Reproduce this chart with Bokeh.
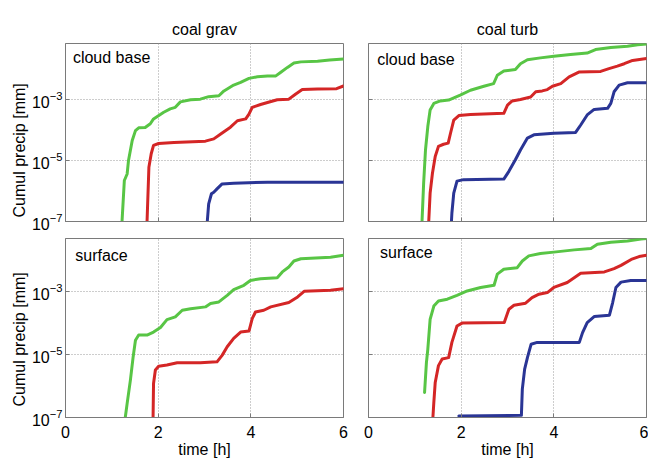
from bokeh.plotting import figure
from bokeh.models import Range1d, FixedTicker, Label, Title
from bokeh.layouts import gridplot
from bokeh.embed import file_html
from bokeh.resources import INLINE

# ---------------- data ----------------
col_titles = ["coal grav", "coal turb"]
row_titles = ["cloud base", "surface"]
x_ticks = [0, 2, 4, 6]
y_ticks = [1e-7, 1e-5, 1e-3]

# top-left: coal grav, cloud base
tl_green_t = [1.22, 1.27, 1.33, 1.36, 1.44, 1.51, 1.58, 1.72, 1.83, 1.90, 2.12, 2.26, 2.37, 2.48, 2.70, 2.91,
              3.09, 3.31, 3.42, 3.63, 3.78, 3.96, 4.14, 4.36, 4.54, 4.64, 4.79, 4.93, 5.08, 5.44, 5.70, 6.00]
tl_green_p = [1e-7, 2.2e-6, 3.6e-6, 1.0e-5, 4.5e-5, 9.5e-5, 1.17e-4, 1.2e-4, 1.6e-4, 2.3e-4, 3.8e-4, 4.9e-4,
              5.5e-4, 8.3e-4, 9.8e-4, 1.02e-3, 1.23e-3, 1.32e-3, 1.9e-3, 2.95e-3, 3.6e-3, 4.9e-3, 5.5e-3,
              5.9e-3, 5.9e-3, 7.6e-3, 1.12e-2, 1.55e-2, 1.7e-2, 1.78e-2, 1.95e-2, 2.1e-2]
tl_red_t = [1.76, 1.80, 1.85, 1.90, 2.01, 2.34, 3.02, 3.20, 3.35, 3.56, 3.71, 3.89, 3.96, 4.03, 4.21, 4.36,
            4.57, 4.82, 4.97, 5.11, 5.44, 5.85, 6.00]
tl_red_p = [1e-7, 6.0e-6, 1.66e-5, 3.1e-5, 3.6e-5, 3.9e-5, 4.3e-5, 5.1e-5, 7.4e-5, 1.23e-4, 2.0e-4, 2.3e-4,
            3.3e-4, 5.5e-4, 6.8e-4, 7.9e-4, 9.8e-4, 1.02e-3, 1.51e-3, 2.1e-3, 2.2e-3, 2.25e-3, 2.75e-3]
tl_blue_t = [3.06, 3.09, 3.15, 3.20, 3.27, 3.38, 3.63, 4.36, 6.00]
tl_blue_p = [1e-7, 3.8e-7, 8.1e-7, 9.1e-7, 1.17e-6, 1.7e-6, 1.78e-6, 1.95e-6, 1.95e-6]

# top-right: coal turb, cloud base
tr_green_t = [1.155, 1.19, 1.23, 1.28, 1.33, 1.41, 1.55, 1.73, 1.98, 2.20, 2.49, 2.70, 2.78, 2.92, 3.17, 3.28,
              3.43, 3.71, 4.00, 4.36, 4.72, 4.90, 5.23, 5.59, 5.81, 6.00]
tr_green_p = [1e-7, 1.8e-6, 2.2e-5, 1.29e-4, 4.5e-4, 7.4e-4, 8.9e-4, 9.5e-4, 1.38e-3, 2.0e-3, 2.7e-3, 3.3e-3,
              6.2e-3, 8.5e-3, 9.5e-3, 1.48e-2, 2.0e-2, 2.3e-2, 2.6e-2, 2.95e-2, 3.3e-2, 4.3e-2, 5.0e-2,
              5.5e-2, 6.2e-2, 6.6e-2]
tr_red_t = [1.30, 1.33, 1.38, 1.44, 1.51, 1.62, 1.72, 1.77, 1.84, 1.95, 2.20, 2.92, 3.00, 3.10, 3.28, 3.50,
            3.61, 3.75, 3.86, 3.97, 4.15, 4.33, 4.54, 5.01, 5.19, 5.37, 5.52, 5.70, 6.00]
tr_red_p = [1e-7, 8.5e-7, 3.8e-6, 1.35e-5, 2.9e-5, 3.4e-5, 3.7e-5, 7.8e-5, 2.1e-4, 2.95e-4, 3.2e-4, 3.5e-4,
            6.5e-4, 8.9e-4, 1.0e-3, 1.2e-3, 1.78e-3, 1.9e-3, 2.1e-3, 2.7e-3, 3.3e-3, 5.5e-3, 7.9e-3,
            8.3e-3, 1.02e-2, 1.23e-2, 1.48e-2, 1.9e-2, 2.2e-2]
tr_blue_t = [1.79, 1.80, 1.84, 1.91, 2.05, 2.92, 3.03, 3.17, 3.28, 3.43, 3.57, 4.00, 4.47, 4.58, 4.72, 4.87,
             5.16, 5.23, 5.30, 5.41, 5.59, 6.00]
tr_blue_p = [1e-7, 1.9e-7, 8.5e-7, 2.1e-6, 2.35e-6, 2.45e-6, 4.4e-6, 1.05e-5, 2.2e-5, 5.4e-5, 6.9e-5, 7.8e-5,
             8.3e-5, 1.45e-4, 3.1e-4, 4.7e-4, 5.1e-4, 7.4e-4, 1.78e-3, 2.95e-3, 3.5e-3, 3.55e-3]

# bottom-left: coal grav, surface
bl_green_t = [1.29, 1.33, 1.40, 1.46, 1.51, 1.58, 1.76, 1.90, 2.05, 2.19, 2.37, 2.52, 2.70, 3.02, 3.13, 3.31,
              3.49, 3.63, 3.85, 3.99, 4.21, 4.57, 4.68, 4.82, 4.93, 5.08, 5.72, 6.00]
bl_green_p = [1e-7, 2.75e-7, 1.5e-6, 8.3e-6, 2.8e-5, 4.1e-5, 4.1e-5, 5.1e-5, 7.1e-5, 1.26e-4, 1.55e-4, 2.5e-4,
              2.8e-4, 3.2e-4, 4.1e-4, 4.6e-4, 7.4e-4, 1.12e-3, 1.55e-3, 2.2e-3, 2.5e-3, 2.7e-3, 4.1e-3,
              5.9e-3, 9.1e-3, 1.07e-2, 1.2e-2, 1.38e-2]
bl_red_t = [1.89, 1.90, 1.94, 2.01, 2.19, 2.41, 2.91, 3.27, 3.38, 3.49, 3.63, 3.78, 3.96, 4.03, 4.10, 4.28,
            4.43, 4.82, 5.01, 5.15, 5.72, 6.00]
bl_red_p = [1e-7, 1.2e-6, 3.2e-6, 4.2e-6, 4.6e-6, 5.4e-6, 5.4e-6, 5.8e-6, 9.3e-6, 1.74e-5, 3.2e-5, 5.1e-5,
            5.5e-5, 1.35e-4, 2.2e-4, 2.5e-4, 3.2e-4, 4.4e-4, 6.6e-4, 1.0e-3, 1.07e-3, 1.2e-3]

# bottom-right: coal turb, surface
br_green_t = [1.21, 1.25, 1.28, 1.33, 1.41, 1.51, 1.70, 1.91, 2.13, 2.42, 2.71, 2.78, 2.92, 3.21, 3.32, 3.46,
              3.71, 4.00, 4.44, 4.80, 4.94, 5.23, 5.59, 5.88, 6.00]
br_green_p = [6.2e-7, 5.5e-6, 1.45e-5, 1.29e-4, 3.4e-4, 4.9e-4, 5.6e-4, 7.4e-4, 1.02e-3, 1.32e-3, 1.55e-3,
              3.5e-3, 5.0e-3, 5.6e-3, 9.1e-3, 1.32e-2, 1.58e-2, 1.74e-2, 2.05e-2, 2.25e-2, 3.1e-2, 3.6e-2,
              3.9e-2, 4.5e-2, 4.7e-2]
br_red_t = [1.39, 1.41, 1.44, 1.51, 1.59, 1.73, 1.80, 1.91, 2.02, 2.93, 3.03, 3.14, 3.39, 3.53, 3.68, 3.86,
            4.00, 4.29, 4.58, 5.09, 5.30, 5.45, 5.67, 5.84, 6.00]
br_red_p = [1e-7, 3.0e-7, 1.29e-6, 4.4e-6, 7.1e-6, 7.9e-6, 2.4e-5, 7.9e-5, 9.8e-5, 1.02e-4, 2.7e-4, 3.6e-4,
            4.2e-4, 6.3e-4, 8.1e-4, 9.1e-4, 1.32e-3, 1.9e-3, 3.7e-3, 4.1e-3, 5.2e-3, 6.6e-3, 1.02e-2,
            1.26e-2, 1.38e-2]
br_blue_t = [1.95, 3.30, 3.32, 3.37, 3.43, 3.51, 3.64, 4.55, 4.62, 4.72, 4.87, 5.20, 5.27, 5.34, 5.45, 5.66, 6.00]
br_blue_p = [1.12e-7, 1.17e-7, 7.9e-7, 3.4e-6, 7.9e-6, 2.1e-5, 2.4e-5, 2.4e-5, 4.9e-5, 1.02e-4, 1.58e-4,
             1.74e-4, 4.4e-4, 1.32e-3, 1.95e-3, 2.2e-3, 2.2e-3]

# ---------------- styling ----------------
FONT = "Liberation Sans"
GREEN = "#58c545"
RED = "#d42626"
BLUE = "#2a3595"
FRAME = "#7a7a7a"
GRID = "#9a9a9a"
FS = "16px"

top_ymax = 0.068
bot_ymax = 0.047


def hide_labels(ax):
    ax.major_label_text_font_size = "1px"
    ax.major_label_text_alpha = 0
    ax.major_label_standoff = 0


def panel(top, left, ymax, series, corner_text, corner_pos):
    w = 348 if left else 300
    h = 233 if top else 228
    p = figure(width=w, height=h, x_range=Range1d(0, 6), y_range=Range1d(1e-7, ymax),
               y_axis_type="log", output_backend="svg", toolbar_location=None, title=None,
               min_border_left=65 if left else 20, min_border_right=5 if left else 2,
               min_border_top=43 if top else 5, min_border_bottom=12 if top else 44)
    p.background_fill_color = "white"
    p.border_fill_color = "white"
    p.outline_line_color = FRAME
    p.outline_line_width = 1

    xt = FixedTicker(ticks=x_ticks)
    yt = FixedTicker(ticks=y_ticks)
    p.xaxis.ticker = xt
    p.yaxis.ticker = yt
    p.xgrid.ticker = xt
    p.ygrid.ticker = yt
    for g in (p.xgrid[0], p.ygrid[0]):
        g.grid_line_color = GRID
        g.grid_line_dash = "1 2"
        g.grid_line_width = 1

    for ax in (p.xaxis[0], p.yaxis[0]):
        ax.axis_line_color = FRAME
        ax.major_tick_line_color = FRAME
        ax.major_tick_in = 4
        ax.major_tick_out = 0
        ax.minor_tick_line_color = None
        ax.major_label_text_font = FONT
        ax.major_label_text_font_size = FS
        ax.major_label_text_color = "black"

    p.yaxis[0].major_label_standoff = 3
    p.xaxis[0].major_label_standoff = 8
    if not left:
        hide_labels(p.yaxis[0])
    if top:
        hide_labels(p.xaxis[0])
    else:
        p.xaxis[0].axis_label = "time [h]"
        p.xaxis[0].axis_label_text_font = FONT
        p.xaxis[0].axis_label_text_font_size = FS
        p.xaxis[0].axis_label_text_font_style = "normal"
        p.xaxis[0].axis_label_text_color = "black"
        p.xaxis[0].axis_label_standoff = 0

    for t, v, c in series:
        p.line(t, v, line_color=c, line_width=3, line_join="round", line_cap="round")

    cx, cy = corner_pos
    p.add_layout(Label(x=cx, y=cy, text=corner_text, text_font=FONT, text_font_size=FS,
                       text_align="left", text_baseline="middle", text_color="black"))
    return p


p_tl = panel(True, True, top_ymax,
             [(tl_green_t, tl_green_p, GREEN), (tl_red_t, tl_red_p, RED), (tl_blue_t, tl_blue_p, BLUE)],
             row_titles[0], (0.16, 2.3e-2))
p_tr = panel(True, False, top_ymax,
             [(tr_green_t, tr_green_p, GREEN), (tr_red_t, tr_red_p, RED), (tr_blue_t, tr_blue_p, BLUE)],
             row_titles[0], (0.19, 2.0e-2))
p_bl = panel(False, True, bot_ymax,
             [(bl_green_t, bl_green_p, GREEN), (bl_red_t, bl_red_p, RED)],
             row_titles[1], (0.21, 1.38e-2))
p_br = panel(False, False, bot_ymax,
             [(br_green_t, br_green_p, GREEN), (br_red_t, br_red_p, RED), (br_blue_t, br_blue_p, BLUE)],
             row_titles[1], (0.25, 1.66e-2))

# column titles above the top panels
for p, t in ((p_tl, col_titles[0]), (p_tr, col_titles[1])):
    p.add_layout(Title(text=t, align="center", vertical_align="middle", text_font=FONT,
                       text_font_size=FS, text_font_style="normal", text_color="black",
                       standoff=10), "above")

# y-axis titles on the left panels (start a few px above the frame bottom, as in the reference)
for p, off in ((p_tl, 4), (p_bl, 11)):
    p.add_layout(Title(text="Cumul precip [mm]", align="left", offset=off, text_font=FONT,
                       text_font_size=FS, text_font_style="normal", text_color="black",
                       standoff=2), "left")

grid = gridplot([[p_tl, p_tr], [p_bl, p_br]], toolbar_location=None)

open("out.html", "w").write(file_html(grid, INLINE))
